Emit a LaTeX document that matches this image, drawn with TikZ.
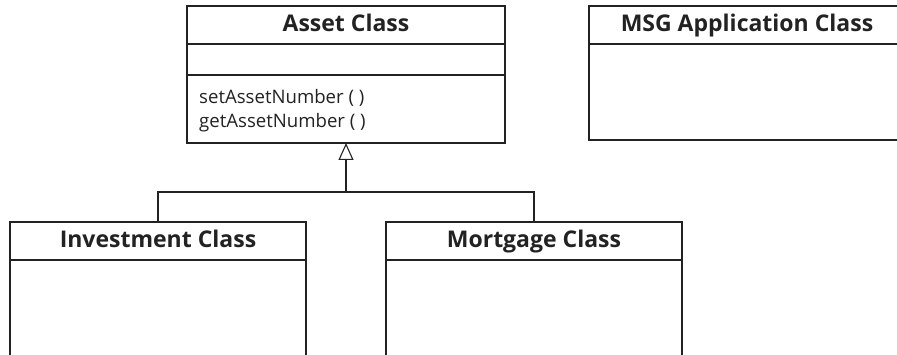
\documentclass[tikz,border=0pt]{standalone}
\usepackage{fontspec}
\setmainfont{Open Sans}
\usetikzlibrary{arrows.meta}
\definecolor{ink}{HTML}{222222}
\begin{document}
\begin{tikzpicture}[x=1pt,y=-1pt,
  outline/.style={draw=ink,line width=1.6pt},
  divider/.style={draw=ink,line width=1.1pt},
  title/.style={font=\bfseries\fontsize{23}{26}\selectfont,text=ink,anchor=base,inner sep=0pt},
  method/.style={font=\fontsize{18.6}{22}\selectfont,text=ink,anchor=base west,inner sep=0pt},
  conn/.style={draw=ink,line width=1.1pt},
  inherit/.style={conn,-{Triangle[open,length=17pt,width=15pt,line width=1.1pt]}}]
\useasboundingbox (0,0) rectangle (897,355);
% Asset Class
\draw[outline] (187,6) rectangle (505,143);
\draw[divider] (187,44) -- (505,44);
\draw[divider] (187,75) -- (505,75);
\node[title] (asset) at (346,32) {Asset Class};
\node[method] (m1) at (199,104) {setAssetNumber ( )};
\node[method] (m2) at (199,128) {getAssetNumber ( )};
\coordinate (assetbot) at (346,143);
% MSG Application Class
\draw[outline] (900,6) -- (589,6) -- (589,140) -- (900,140);
\draw[divider] (589,44) -- (900,44);
\node[title] (msg) at (747,32) {MSG Application Class};
% Investment Class
\draw[outline] (10,360) -- (10,222) -- (306,222) -- (306,360);
\draw[divider] (10,260) -- (306,260);
\node[title] (inv) at (158,248) {Investment Class};
% Mortgage Class
\draw[outline] (386,360) -- (386,222) -- (682,222) -- (682,360);
\draw[divider] (386,260) -- (682,260);
\node[title] (mort) at (534,248) {Mortgage Class};
% connectors
\coordinate (invtop) at (158,222);
\coordinate (morttop) at (534,222);
\coordinate (junc) at (346,192);
\draw[conn] (invtop) |- (junc) -| (morttop);
\draw[inherit] (junc) -- (assetbot);
\end{tikzpicture}
\end{document}
